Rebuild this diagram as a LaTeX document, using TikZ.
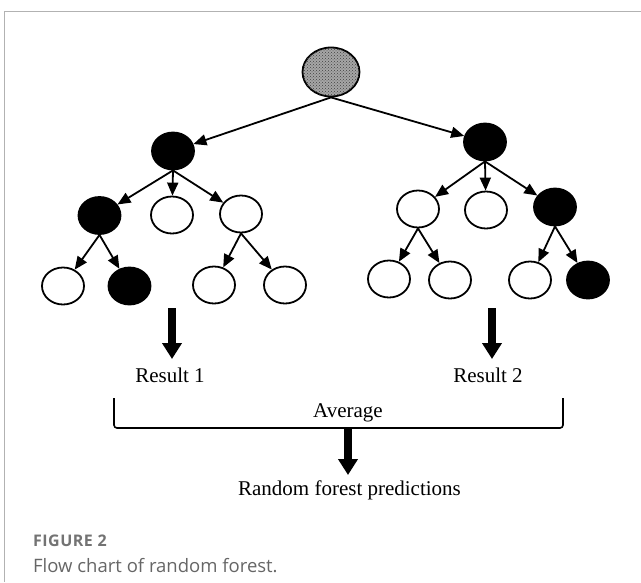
\documentclass[tikz,border=0pt]{standalone}
\usepackage{fontspec}
\setmainfont{Liberation Serif}
\newfontfamily\capfont{Open Sans}
\newfontfamily\capfontsp[LetterSpace=3]{Open Sans}
\usetikzlibrary{arrows.meta,patterns,shapes.geometric}
\begin{document}
\begin{tikzpicture}[x=1pt,y=-1pt,
  leaf/.style={ellipse,draw=black,line width=1.8pt,minimum width=42pt,minimum height=37pt,inner sep=0pt,fill=white},
  dark/.style={leaf,fill=black},
  rootnode/.style={ellipse,draw=black,line width=1.8pt,minimum width=57pt,minimum height=49pt,inner sep=0pt,fill=black!35,postaction={pattern=crosshatch dots,pattern color=black!75}},
  edge/.style={line width=1.8pt,-{Triangle[length=13pt,width=11pt]}},
  bigarrow/.style={line width=8pt,-{Triangle[length=16pt,width=19pt]}},
  lbl/.style={font=\fontsize{21}{25}\selectfont,inner sep=0pt,anchor=base}
]
\useasboundingbox (0,0) rectangle (641,582);
\fill[white] (0,0) rectangle (641,582);
% frame
\draw[black!30,line width=0.8pt] (4,582) -- (4,11) -- (641,11);

% nodes
\node[rootnode] (root) at (331,72) {};
\node[dark] (A) at (173,151) {};
\node[dark] (B) at (485,142) {};
\node[dark] (A1) at (99.5,215.5) {};
\node[leaf] (A2) at (172,215) {};
\node[leaf] (A3) at (241,214) {};
\node[leaf] (A11) at (63,286) {};
\node[dark] (A12) at (129.5,286) {};
\node[leaf] (A31) at (214,285) {};
\node[leaf] (A32) at (285,285) {};
\node[leaf] (B1) at (418,209) {};
\node[leaf] (B2) at (486,210) {};
\node[dark] (B3) at (555,207) {};
\node[leaf] (B11) at (389,279) {};
\node[leaf] (B12) at (450,280) {};
\node[leaf] (B31) at (530,280) {};
\node[dark] (B32) at (588,280) {};

% edges
\draw[edge] (root.south) -- (A);
\draw[edge] (root.south) -- (B);
\draw[edge] (A.south) -- (A1);
\draw[edge] (A.south) -- (A2);
\draw[edge] (A.south) -- (A3);
\draw[edge] (A1.south) -- (A11);
\draw[edge] (A1.south) -- (A12);
\draw[edge] (A3.south) -- (A31);
\draw[edge] (A3.south) -- (A32);
\draw[edge] (B.south) -- (B1);
\draw[edge] (B.south) -- (B2);
\draw[edge] (B.south) -- (B3);
\draw[edge] (B1.south) -- (B11);
\draw[edge] (B1.south) -- (B12);
\draw[edge] (B3.south) -- (B31);
\draw[edge] (B3.south) -- (B32);

% results
\coordinate (r1top) at (172,308);
\coordinate (r2top) at (492,308);
\node[lbl] (r1) at (170,382) {Result 1};
\node[lbl] (r2) at (488,382) {Result 2};
\draw[bigarrow] (r1top) -- (172,359);
\draw[bigarrow] (r2top) -- (492,359);

% bracket
\node[lbl] (avg) at (348,417) {Average};
\draw[line width=1.6pt,rounded corners=3pt] (114,398) -- (114,428) -- (563,428) -- (563,398);
\coordinate (btop) at (348,428);
\node[lbl] (rfp) at (349.5,495) {Random forest predictions};
\draw[bigarrow] (btop) -- (348,475);

% caption
\node[font=\capfontsp\bfseries\fontsize{16}{18}\selectfont,text=black!55,anchor=base west,inner sep=0pt] (fig) at (33,546) {FIGURE 2};
\node[font=\capfont\fontsize{18.5}{21}\selectfont,text=black!60,anchor=base west,inner sep=0pt] (cap) at (33,572) {Flow chart of random forest.};
\end{tikzpicture}
\end{document}
